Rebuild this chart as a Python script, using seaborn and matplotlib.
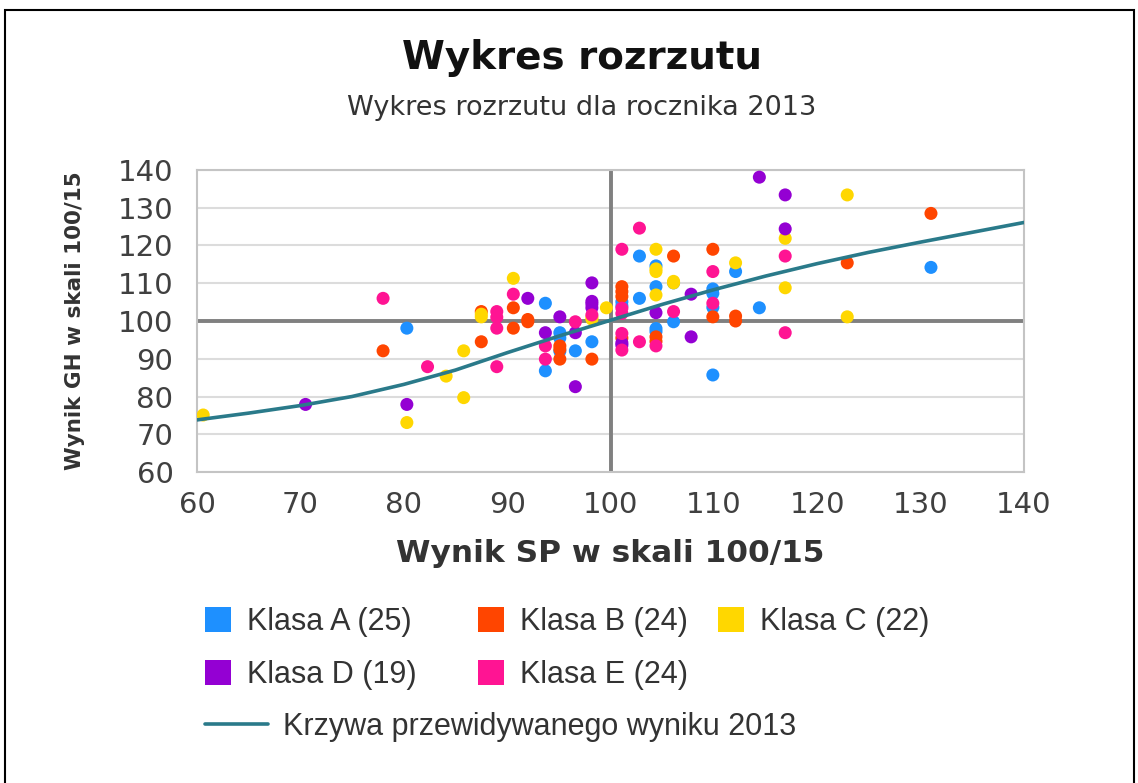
import matplotlib
matplotlib.use("Agg")
import matplotlib.pyplot as plt
from matplotlib.patches import Patch, Rectangle
from matplotlib.lines import Line2D
import seaborn as sns
import pandas as pd

# ---------------- data ----------------
classes = ["Klasa A (25)", "Klasa B (24)", "Klasa C (22)", "Klasa D (19)", "Klasa E (24)"]
colors = ["#1E90FF", "#FF4500", "#FFD700", "#9400D3", "#FF1493"]

A_x = [80.3, 93.7, 93.7, 95.1, 95.1, 96.6, 98.2, 101.1, 101.1, 102.8, 102.8, 104.4, 104.4,
       104.4, 104.4, 106.1, 106.1, 109.9, 109.9, 109.9, 109.9, 112.1, 114.4, 131.0, 95.1]
A_y = [98.1, 104.7, 86.8, 96.9, 92.0, 92.1, 94.5, 105.1, 104.0, 117.2, 106.0, 114.6, 109.1,
       97.2, 98.0, 110.1, 99.8, 107.3, 103.6, 85.7, 108.5, 113.1, 103.5, 114.2, 95.5]

B_x = [78.0, 87.5, 87.5, 90.6, 90.6, 92.0, 95.1, 95.1, 98.2, 101.1, 101.1, 101.1, 101.1,
       104.4, 106.1, 109.9, 109.9, 112.1, 112.1, 122.9, 131.0, 95.1, 104.4, 92.0]
B_y = [92.1, 94.5, 102.5, 103.5, 98.1, 99.8, 93.4, 89.9, 89.9, 109.1, 107.8, 106.5, 95.5,
       95.8, 117.2, 119.0, 101.1, 101.3, 100.0, 115.4, 128.5, 92.5, 94.6, 100.4]

C_x = [60.6, 80.3, 84.1, 85.8, 85.8, 87.5, 90.6, 98.2, 99.6, 104.4, 104.4, 104.4, 106.1,
       112.1, 116.9, 116.9, 122.9, 122.9, 104.4, 87.5, 106.1, 98.2]
C_y = [75.1, 73.1, 85.4, 92.1, 79.7, 101.1, 111.3, 100.5, 103.5, 119.0, 113.1, 106.9, 110.1,
       115.4, 121.9, 108.8, 133.4, 101.1, 113.8, 101.8, 110.5, 101.0]

D_x = [70.5, 80.3, 92.0, 93.7, 95.1, 96.6, 96.6, 98.2, 98.2, 98.2, 101.1, 104.4, 107.8,
       107.8, 114.4, 116.9, 116.9, 98.2, 101.1]
D_y = [77.9, 77.9, 106.0, 96.9, 101.1, 96.9, 82.6, 110.1, 104.5, 103.5, 93.6, 102.2, 107.1,
       95.8, 138.1, 133.4, 124.4, 105.2, 94.2]

E_x = [78.0, 82.3, 89.0, 89.0, 89.0, 89.0, 90.6, 93.7, 93.7, 96.6, 98.2, 101.1, 101.1,
       101.1, 101.1, 102.8, 102.8, 104.4, 106.1, 109.9, 109.9, 116.9, 116.9, 101.1]
E_y = [106.0, 87.9, 87.9, 102.5, 101.0, 98.1, 107.1, 93.4, 89.9, 99.8, 101.6, 119.0, 103.4,
       96.7, 92.3, 124.6, 94.5, 93.4, 102.5, 113.1, 104.7, 117.2, 96.9, 102.0]

curve_label = "Krzywa przewidywanego wyniku 2013"
curve_x = [60, 65, 70, 75, 80, 85, 90, 95, 100, 105, 110, 115, 120, 125, 130, 135, 140]
curve_y = [73.8, 75.6, 77.6, 80.0, 83.2, 87.0, 91.6, 96.0, 100.2, 104.4, 108.3, 111.9,
           115.2, 118.2, 120.9, 123.5, 126.1]

ticks = [60, 70, 80, 90, 100, 110, 120, 130, 140]
title = "Wykres rozrzutu"
subtitle = "Wykres rozrzutu dla rocznika 2013"
xlabel = "Wynik SP w skali 100/15"
ylabel = "Wynik GH w skali 100/15"

# ---------------- table ----------------
xs_all = [A_x, B_x, C_x, D_x, E_x]
ys_all = [A_y, B_y, C_y, D_y, E_y]
rows = []
for name, xs, ys in zip(classes, xs_all, ys_all):
    for x, y in zip(xs, ys):
        rows.append({"sp": x, "gh": y, "klasa": name})
df = pd.DataFrame(rows)
palette = dict(zip(classes, colors))

# ---------------- style ----------------
sns.set_style("white")
plt.rcParams["font.family"] = ["DejaVu Sans"]

fig = plt.figure(figsize=(11.38, 7.83), dpi=100)
ax = fig.add_axes([197 / 1138, 1 - 472 / 783, (1024 - 197) / 1138, (472 - 170) / 783])

ax.axhline(100, color="#808080", lw=2.8, zorder=1)
ax.axvline(100, color="#808080", lw=2.8, zorder=1)

sns.scatterplot(data=df, x="sp", y="gh", hue="klasa", palette=palette, hue_order=classes,
                s=88, linewidth=0, legend=False, ax=ax, zorder=3)
sns.lineplot(x=curve_x, y=curve_y, color="#2A7A8A", lw=2.6, ax=ax, zorder=4)

ax.set_xlim(60, 140)
ax.set_ylim(60, 140)
ax.set_xticks(ticks)
ax.set_yticks(ticks)
ax.yaxis.grid(True, color="#DCDCDC", lw=1.5, zorder=0)
ax.xaxis.grid(False)
ax.set_axisbelow(True)
for sp in ax.spines.values():
    sp.set_color("#C4C4C4")
    sp.set_linewidth(1.5)
ax.tick_params(axis="both", direction="out", length=9, width=1.5, color="#BBBBBB",
               labelsize=21, labelcolor="#404040")
ax.tick_params(axis="y", pad=8)
ax.tick_params(axis="x", pad=5)

ax.set_xlabel(xlabel, fontsize=22.5, fontweight="bold", color="#333333")
ax.set_ylabel(ylabel, fontsize=15.5, fontweight="bold", color="#333333")
ax.xaxis.label.set_verticalalignment("center")
ax.yaxis.label.set_verticalalignment("center")
ax.xaxis.set_label_coords(0.5, (472 - 553) / 302)
ax.yaxis.set_label_coords((75 - 197) / 827, 0.5)

fig.text(582 / 1138, 1 - 58 / 783, title, ha="center", va="center",
         fontsize=28, fontweight="bold", color="#111111")
fig.text(582 / 1138, 1 - 108 / 783, subtitle, ha="center", va="center",
         fontsize=19.5, color="#333333")

# ---------------- legend ----------------
fs = 22
leg_kw = dict(loc="center left", frameon=False, borderpad=0, borderaxespad=0,
              handletextpad=0.52, labelcolor="#333333",
              prop={"family": ["Liberation Sans", "DejaVu Sans"], "size": fs})
positions = [(205, 622), (478, 622), (718, 622), (205, 675), (478, 675)]
for name, col, (px, py) in zip(classes, colors, positions):
    h = Patch(facecolor=col, edgecolor="none")
    fig.legend([h], [name], bbox_to_anchor=(px / 1138, 1 - py / 783),
               handlelength=0.86, handleheight=0.86, **leg_kw)
lh = Line2D([0], [0], color="#2A7A8A", lw=2.6)
kw = dict(leg_kw)
kw["handletextpad"] = 0.49
fig.legend([lh], [curve_label], bbox_to_anchor=(205 / 1138, 1 - 727 / 783),
           handlelength=2.06, **kw)

# border frame
fig.add_artist(Rectangle((5 / 1138, -0.05), (1134 - 5) / 1138, 1.05 - 10 / 783,
                         transform=fig.transFigure, fill=False, ec="black", lw=1.5))

fig.savefig("out.png", dpi=100)
